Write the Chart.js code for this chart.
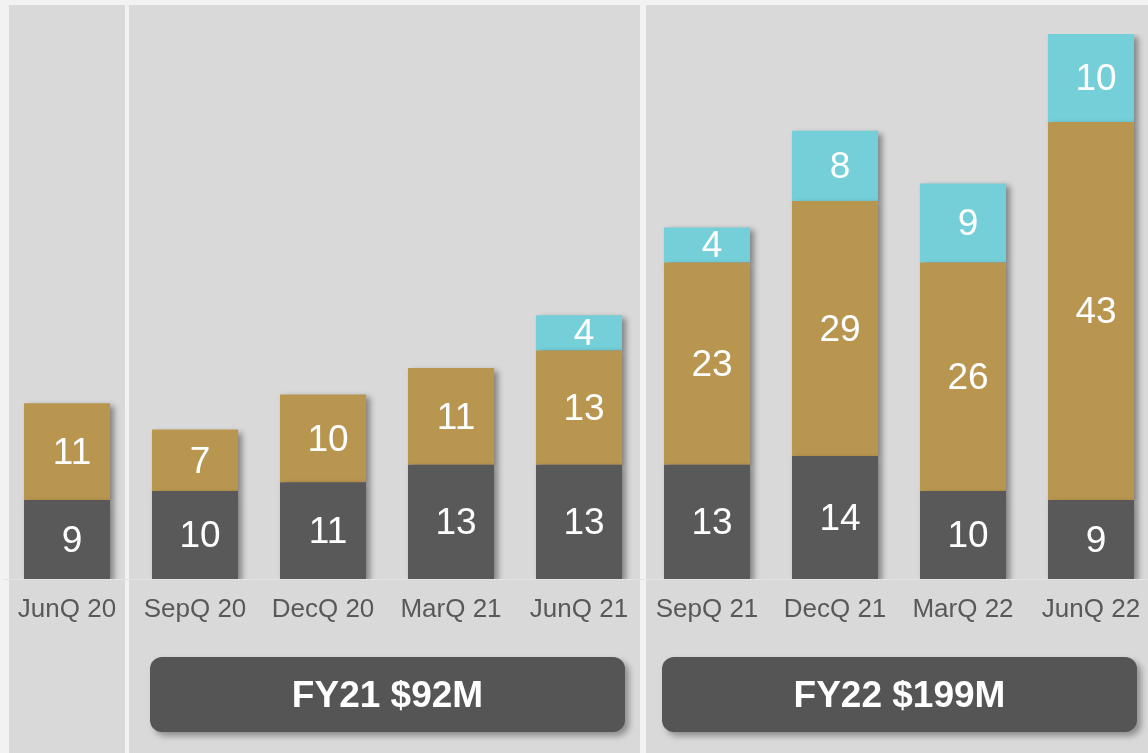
<!DOCTYPE html>
<html>
<head>
<meta charset="utf-8">
<script src="https://cdn.jsdelivr.net/npm/chart.js@4/dist/chart.umd.min.js"></script>
<style>
    html, body { margin: 0; padding: 0; background: #f2f2f2; overflow: hidden; }
    #wrap { position: relative; width: 1148px; height: 753px; overflow: hidden; }
    canvas { position: absolute; left: 0; top: 0; }
</style>
</head>
<body>
<div id="wrap"><canvas id="revenueChart" width="1160" height="753"></canvas></div>
<script>
// Quarter labels
const quarters = ['JunQ 20', 'SepQ 20', 'DecQ 20', 'MarQ 21', 'JunQ 21', 'SepQ 21', 'DecQ 21', 'MarQ 22', 'JunQ 22'];

// Stack values (bottom to top)
const darkValues = [9, 10, 11, 13, 13, 13, 14, 10, 9];
const goldValues = [11, 7, 10, 11, 13, 23, 29, 26, 43];
const cyanValues = [null, null, null, null, 4, 4, 8, 9, 10];

// Fiscal year summary boxes (first and last quarter index)
const fyLabels = ['FY21 $92M', 'FY22 $199M'];
const fyStart = [1, 5];
const fyEnd = [4, 8];

const FONT = '"Liberation Sans", Arial, sans-serif';

// Background panels + fiscal year boxes
const panelPlugin = {
    id: 'panels',
    beforeDraw(chart) {
        const ctx = chart.ctx;
        const x = chart.scales.x;
        const c = i => x.getPixelForValue(i);
        ctx.save();
        ctx.fillStyle = '#f2f2f2';
        ctx.fillRect(0, 0, chart.width, chart.height);
        ctx.fillStyle = '#d9d9d9';
        const top = 5;
        ctx.fillRect(c(0) - 58, top, 116, chart.height);
        ctx.fillRect(c(1) - 66, top, (c(4) + 61) - (c(1) - 66), chart.height);
        ctx.fillRect(c(5) - 61, top, chart.width, chart.height);
        ctx.restore();
    },
    afterDraw(chart) {
        const ctx = chart.ctx;
        const x = chart.scales.x;
        fyLabels.forEach((label, i) => {
            const left = x.getPixelForValue(fyStart[i]) - 45;
            const right = x.getPixelForValue(fyEnd[i]) + 46;
            const y = 657, h = 75;
            ctx.save();
            ctx.shadowColor = 'rgba(0,0,0,0.35)';
            ctx.shadowBlur = 6;
            ctx.shadowOffsetX = 4;
            ctx.shadowOffsetY = 4;
            ctx.fillStyle = '#555555';
            ctx.beginPath();
            ctx.roundRect(left, y, right - left, h, 12);
            ctx.fill();
            ctx.restore();
            ctx.save();
            ctx.fillStyle = '#ffffff';
            ctx.font = 'bold 37px ' + FONT;
            ctx.textAlign = 'center';
            ctx.textBaseline = 'middle';
            ctx.fillText(label, (left + right) / 2, y + h / 2 + 2);
            ctx.restore();
        });
    }
};

// Bar shadows and value labels
const barPlugin = {
    id: 'barDecor',
    beforeDatasetsDraw(chart) {
        const ctx = chart.ctx;
        ctx.save();
        ctx.shadowColor = 'rgba(0,0,0,0.4)';
        ctx.shadowBlur = 6;
        ctx.shadowOffsetX = 4;
        ctx.shadowOffsetY = 3;
    },
    afterDatasetsDraw(chart) {
        const ctx = chart.ctx;
        ctx.restore();
        ctx.save();
        ctx.fillStyle = '#ffffff';
        ctx.font = '37px ' + FONT;
        ctx.textAlign = 'center';
        ctx.textBaseline = 'middle';
        chart.data.datasets.forEach((ds, di) => {
            const meta = chart.getDatasetMeta(di);
            meta.data.forEach((bar, i) => {
                const v = ds.data[i];
                if (v == null) return;
                const p = bar.getProps(['x', 'y', 'base'], true);
                ctx.fillText(String(v), p.x + 5, (p.y + p.base) / 2 + 2);
            });
        });
        ctx.restore();
    }
};

const canvas = document.getElementById('revenueChart');
new Chart(canvas.getContext('2d'), {
    type: 'bar',
    data: {
        labels: quarters,
        datasets: [
            { data: darkValues, backgroundColor: '#595959' },
            { data: goldValues, backgroundColor: '#b9964f' },
            { data: cyanValues, backgroundColor: '#74cfd9' }
        ]
    },
    options: {
        responsive: false,
        animation: false,
        layout: { padding: { left: 3, right: 5, top: 34, bottom: 0 } },
        datasets: {
            bar: { barPercentage: 0.672, categoryPercentage: 1, borderWidth: 0 }
        },
        plugins: {
            legend: { display: false },
            tooltip: { enabled: false }
        },
        scales: {
            x: {
                stacked: true,
                grid: { display: false, drawTicks: false },
                border: { display: true, color: '#e4e4e4', width: 1 },
                ticks: {
                    color: '#595959',
                    font: { family: FONT, size: 26 },
                    padding: 15,
                    maxRotation: 0,
                    autoSkip: false
                },
                afterFit(scale) { scale.height = 174; }
            },
            y: {
                stacked: true,
                display: false,
                min: 0,
                max: 62
            }
        }
    },
    plugins: [panelPlugin, barPlugin]
});
</script>
</body>
</html>
